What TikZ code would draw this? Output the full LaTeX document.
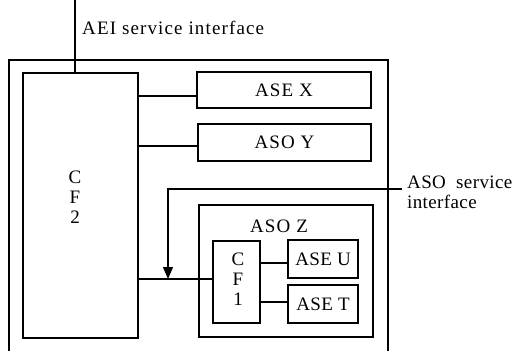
\documentclass[tikz,border=0pt]{standalone}
\usepackage{fontspec}
\setmainfont{Liberation Serif}
\newfontfamily\widefont[LetterSpace=6]{Liberation Serif}
\newfontfamily\semiwidefont[LetterSpace=2]{Liberation Serif}
\usetikzlibrary{arrows.meta}
\begin{document}
\begin{tikzpicture}[x=1pt,y=-1pt,
  box/.style={draw,line width=1.2pt,rectangle,inner sep=0pt},
  wire/.style={line width=1.2pt},
  lbl/.style={font=\fontsize{19}{21}\selectfont\widefont,inner sep=0pt},
  narrowlbl/.style={font=\fontsize{19}{21}\selectfont\semiwidefont},
  stack/.style={font=\fontsize{19}{20}\selectfont,align=center,inner sep=0pt}]
\useasboundingbox (0,0) rectangle (518,351);

% outer frame of the application entity
\draw[wire] (9,351) -- (9,60) -- (388,60) -- (388,351);

% control function CF2
\node[box,minimum width=115pt,minimum height=265pt] (cf2) at (80.5,205.5) {};
\node[stack] (cf2text) at (75,197) {C\\F\\2};

% service elements
\node[box,minimum width=174pt,minimum height=36pt,lbl] (asex) at (284,90) {ASE X};
\node[box,minimum width=173pt,minimum height=37pt,lbl] (asoy) at (284.5,142.5) {ASO Y};

% ASO Z with its own control function
\node[box,minimum width=174pt,minimum height=132pt] (asoz) at (286,271) {};
\node[lbl] (asoztext) at (279,226) {ASO Z};
\node[box,minimum width=47pt,minimum height=82pt] (cf1) at (236.5,282) {};
\node[stack] (cf1text) at (238,279) {C\\F\\1};
\node[box,minimum width=70pt,minimum height=38pt,narrowlbl] (aseu) at (323,259) {ASE U};
\node[box,minimum width=70pt,minimum height=38pt,narrowlbl] (aset) at (323,304) {ASE T};

% connector heights
\coordinate (yx) at (0,96);
\coordinate (yy) at (0,146);
\coordinate (yz) at (0,279);
\coordinate (yu) at (0,263);
\coordinate (yt) at (0,302);

\draw[wire] (cf2.east |- yx) -- (asex.west |- yx);
\draw[wire] (cf2.east |- yy) -- (asoy.west |- yy);
\draw[wire] (cf2.east |- yz) -- (cf1.west |- yz);
\draw[wire] (cf1.east |- yu) -- (aseu.west |- yu);
\draw[wire] (cf1.east |- yt) -- (aset.west |- yt);

% AEI service interface
\coordinate (aeitop) at (75,0);
\draw[wire] (aeitop) -- (aeitop |- cf2.north);
\node[lbl,anchor=west] (aeilabel) at (82,28) {AEI service interface};

% ASO service interface
\coordinate (asoend) at (402,189);
\coordinate (asobend) at (168,189);
\coordinate (asotip) at (168,279);
\draw[wire,-{Triangle[length=12pt,width=10pt]}] (asoend) -- (asobend) -- (asotip);
\node[font=\fontsize{19}{20}\selectfont\semiwidefont,align=left,anchor=north west,inner sep=0pt] (asolabel) at (407,176) {ASO\ \ service\\interface};
\end{tikzpicture}
\end{document}
